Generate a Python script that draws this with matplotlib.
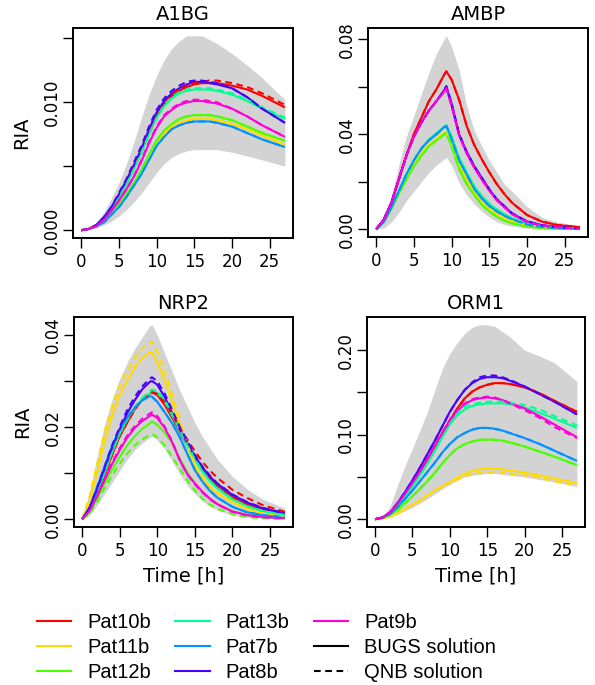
import matplotlib
matplotlib.use("Agg")
import matplotlib.pyplot as plt
from matplotlib.lines import Line2D

plt.rcParams['font.family'] = ['DejaVu Sans']

# ---------------- data ----------------
patients = ["Pat10b", "Pat11b", "Pat12b", "Pat13b", "Pat7b", "Pat8b", "Pat9b"]
colors = ["#FF0000", "#FFDB00", "#49FF00", "#00FF92", "#0092FF", "#4900FF", "#FF00DB"]
genes = ["A1BG", "AMBP", "NRP2", "ORM1"]

# time grids (hours)
t_slow = [0, 1, 2, 3, 4, 5, 6, 7, 8, 9, 10, 11, 12, 13, 14, 15, 16, 17, 18, 20, 22, 24, 27]
t_fast = [0, 1, 2, 3, 4, 5, 6, 7, 8, 9, 9.3, 10, 11, 12, 13, 14, 15, 16, 17, 18, 20, 22, 24, 27]

# ---- A1BG ----
a1bg_band_hi = [0, 0.0002, 0.0006, 0.0014, 0.0025, 0.0037, 0.0052, 0.0069, 0.0088, 0.0106, 0.0121, 0.0133, 0.0142, 0.0148, 0.0152, 0.0152, 0.0152, 0.0149, 0.0146, 0.0138, 0.0129, 0.0119, 0.0102]
a1bg_band_lo = [0, 0.00005, 0.0002, 0.0004, 0.0007, 0.0011, 0.0016, 0.0022, 0.0029, 0.0037, 0.0045, 0.0052, 0.0057, 0.0060, 0.0062, 0.0063, 0.0063, 0.0063, 0.0063, 0.0061, 0.0058, 0.0055, 0.0050]
a1bg_pat10b_bugs = [0, 0.0001, 0.0004, 0.0009, 0.0017, 0.0026, 0.0037, 0.0049, 0.0062, 0.0076, 0.0089, 0.0099, 0.0105, 0.0109, 0.0112, 0.0114, 0.0115, 0.0115, 0.0115, 0.0113, 0.0110, 0.0105, 0.0096]
a1bg_pat10b_qnb = [0, 0.0001, 0.0004, 0.0009, 0.0017, 0.0026, 0.0037, 0.0049, 0.0062, 0.0076, 0.0089, 0.0099, 0.0106, 0.0110, 0.0113, 0.0115, 0.0116, 0.0117, 0.0117, 0.0115, 0.0112, 0.0107, 0.0098]
a1bg_pat11b_bugs = [0, 0.0001, 0.0003, 0.0007, 0.0012, 0.0019, 0.0027, 0.0036, 0.0046, 0.0057, 0.0068, 0.0076, 0.0081, 0.0084, 0.0086, 0.0087, 0.0087, 0.0087, 0.0086, 0.0083, 0.0079, 0.0074, 0.0067]
a1bg_pat11b_qnb = a1bg_pat11b_bugs
a1bg_pat12b_bugs = [0, 0.0001, 0.0003, 0.0007, 0.0013, 0.0020, 0.0028, 0.0037, 0.0047, 0.0059, 0.0070, 0.0078, 0.0083, 0.0087, 0.0089, 0.0090, 0.0090, 0.0090, 0.0089, 0.0086, 0.0081, 0.0076, 0.0070]
a1bg_pat12b_qnb = a1bg_pat12b_bugs
a1bg_pat13b_bugs = [0, 0.0001, 0.0004, 0.0009, 0.0017, 0.0026, 0.0036, 0.0048, 0.0061, 0.0075, 0.0088, 0.0097, 0.0103, 0.0107, 0.0109, 0.0110, 0.0110, 0.0110, 0.0109, 0.0106, 0.0101, 0.0095, 0.0087]
a1bg_pat13b_qnb = [0, 0.0001, 0.0004, 0.0009, 0.0017, 0.0026, 0.0036, 0.0048, 0.0061, 0.0075, 0.0088, 0.0098, 0.0104, 0.0108, 0.0110, 0.0111, 0.0111, 0.0111, 0.0110, 0.0107, 0.0102, 0.0096, 0.0088]
a1bg_pat7b_bugs = [0, 0.0001, 0.0003, 0.0006, 0.0012, 0.0018, 0.0026, 0.0035, 0.0044, 0.0055, 0.0066, 0.0073, 0.0079, 0.0082, 0.0084, 0.0085, 0.0085, 0.0085, 0.0084, 0.0081, 0.0076, 0.0071, 0.0065]
a1bg_pat7b_qnb = a1bg_pat7b_bugs
a1bg_pat8b_bugs = [0, 0.0001, 0.0004, 0.0010, 0.0018, 0.0028, 0.0039, 0.0051, 0.0064, 0.0079, 0.0092, 0.0101, 0.0107, 0.0111, 0.0114, 0.0116, 0.0116, 0.0115, 0.0114, 0.0111, 0.0104, 0.0095, 0.0084]
a1bg_pat8b_qnb = [0, 0.0001, 0.0004, 0.0010, 0.0018, 0.0029, 0.0040, 0.0053, 0.0066, 0.0081, 0.0094, 0.0103, 0.0109, 0.0113, 0.0116, 0.0117, 0.0117, 0.0116, 0.0115, 0.0111, 0.0104, 0.0095, 0.0084]
a1bg_pat9b_bugs = [0, 0.0001, 0.0003, 0.0008, 0.0015, 0.0023, 0.0032, 0.0042, 0.0054, 0.0068, 0.0080, 0.0089, 0.0094, 0.0098, 0.0100, 0.0101, 0.0101, 0.0100, 0.0099, 0.0095, 0.0089, 0.0082, 0.0073]
a1bg_pat9b_qnb = [0, 0.0001, 0.0003, 0.0008, 0.0015, 0.0023, 0.0032, 0.0042, 0.0055, 0.0069, 0.0081, 0.0090, 0.0095, 0.0099, 0.0101, 0.0102, 0.0102, 0.0101, 0.0100, 0.0095, 0.0089, 0.0082, 0.0073]

# ---- AMBP ----
ambp_band_hi = [0, 0.005, 0.0135, 0.027, 0.039, 0.048, 0.057, 0.066, 0.074, 0.080, 0.0815, 0.077, 0.067, 0.052, 0.0416, 0.035, 0.029, 0.024, 0.019, 0.016, 0.0095, 0.005, 0.003, 0.0015]
ambp_band_lo = [0, 0.0005, 0.003, 0.007, 0.012, 0.016, 0.020, 0.024, 0.027, 0.0295, 0.0303, 0.027, 0.0195, 0.0145, 0.0106, 0.0075, 0.005, 0.0032, 0.002, 0.0013, 0.0005, 0.0002, 0.0001, 0]
ambp_pat10b_bugs = [0, 0.004, 0.011, 0.021, 0.031, 0.040, 0.047, 0.054, 0.059, 0.065, 0.0665, 0.063, 0.0545, 0.0435, 0.0355, 0.0295, 0.024, 0.019, 0.0148, 0.0112, 0.006, 0.0032, 0.0018, 0.0009]
ambp_pat10b_qnb = ambp_pat10b_bugs
ambp_pat11b_bugs = [0, 0.003, 0.0085, 0.015, 0.021, 0.027, 0.032, 0.0355, 0.038, 0.0405, 0.041, 0.036, 0.027, 0.021, 0.0155, 0.0115, 0.0087, 0.0065, 0.0048, 0.0035, 0.0017, 0.0008, 0.0004, 0.0001]
ambp_pat11b_qnb = ambp_pat11b_bugs
ambp_pat12b_bugs = [0, 0.003, 0.0085, 0.015, 0.021, 0.0265, 0.031, 0.035, 0.0375, 0.040, 0.0405, 0.035, 0.0255, 0.019, 0.0145, 0.0103, 0.0075, 0.0052, 0.0036, 0.0025, 0.0011, 0.0005, 0.0002, 0.0001]
ambp_pat12b_qnb = ambp_pat12b_bugs
ambp_pat13b_bugs = [0, 0.003, 0.009, 0.016, 0.023, 0.029, 0.034, 0.0378, 0.0405, 0.043, 0.0438, 0.039, 0.030, 0.024, 0.018, 0.014, 0.0107, 0.0083, 0.0063, 0.0047, 0.0024, 0.0012, 0.0006, 0.0002]
ambp_pat13b_qnb = ambp_pat13b_bugs
ambp_pat7b_bugs = [0, 0.003, 0.009, 0.016, 0.023, 0.029, 0.034, 0.0375, 0.040, 0.043, 0.0435, 0.038, 0.029, 0.023, 0.017, 0.013, 0.0098, 0.0075, 0.0057, 0.0042, 0.002, 0.001, 0.0005, 0.0002]
ambp_pat7b_qnb = ambp_pat7b_bugs
ambp_pat8b_bugs = [0, 0.004, 0.011, 0.021, 0.031, 0.039, 0.045, 0.050, 0.054, 0.0585, 0.0602, 0.053, 0.040, 0.0326, 0.0266, 0.0217, 0.0168, 0.0126, 0.0097, 0.0067, 0.0033, 0.0017, 0.0009, 0.0004]
ambp_pat8b_qnb = ambp_pat8b_bugs
ambp_pat9b_bugs = [0, 0.004, 0.011, 0.021, 0.031, 0.039, 0.045, 0.050, 0.054, 0.058, 0.0595, 0.052, 0.0395, 0.032, 0.026, 0.021, 0.0163, 0.0122, 0.0093, 0.0064, 0.0031, 0.0016, 0.0008, 0.0004]
ambp_pat9b_qnb = ambp_pat9b_bugs

# ---- NRP2 ----
nrp2_band_hi = [0, 0.006, 0.0135, 0.0205, 0.026, 0.0305, 0.034, 0.037, 0.0395, 0.042, 0.0422, 0.040, 0.036, 0.032, 0.028, 0.0245, 0.021, 0.018, 0.0155, 0.013, 0.0093, 0.0065, 0.0044, 0.0024]
nrp2_band_lo = [0, 0.0008, 0.003, 0.0055, 0.008, 0.0105, 0.013, 0.015, 0.0165, 0.0177, 0.018, 0.0172, 0.0152, 0.0125, 0.0098, 0.0074, 0.0055, 0.004, 0.0028, 0.002, 0.0009, 0.0004, 0.0002, 0.0001]
nrp2_pat10b_bugs = [0, 0.0018, 0.0055, 0.0095, 0.014, 0.018, 0.021, 0.0238, 0.026, 0.0272, 0.0275, 0.027, 0.0248, 0.022, 0.019, 0.016, 0.0132, 0.0108, 0.0088, 0.0072, 0.0048, 0.0032, 0.0021, 0.0011]
nrp2_pat10b_qnb = [0, 0.0018, 0.0055, 0.0095, 0.014, 0.018, 0.021, 0.0238, 0.026, 0.0272, 0.0276, 0.0272, 0.0254, 0.0228, 0.020, 0.0173, 0.0148, 0.0125, 0.0106, 0.009, 0.0064, 0.0046, 0.0031, 0.0016]
nrp2_pat11b_bugs = [0, 0.004, 0.010, 0.017, 0.0225, 0.027, 0.030, 0.033, 0.035, 0.0362, 0.0363, 0.034, 0.030, 0.0255, 0.0205, 0.0158, 0.0115, 0.0088, 0.007, 0.0056, 0.0036, 0.0022, 0.0013, 0.0006]
nrp2_pat11b_qnb = [0, 0.005, 0.012, 0.019, 0.0245, 0.029, 0.032, 0.035, 0.037, 0.0385, 0.0385, 0.0365, 0.032, 0.027, 0.0215, 0.0165, 0.012, 0.0092, 0.0072, 0.0058, 0.0038, 0.0023, 0.0014, 0.0007]
nrp2_pat12b_bugs = [0, 0.0015, 0.0045, 0.0078, 0.0108, 0.0135, 0.016, 0.018, 0.0196, 0.0208, 0.0212, 0.0205, 0.0188, 0.0165, 0.0132, 0.0102, 0.0078, 0.0058, 0.0043, 0.0032, 0.0017, 0.0009, 0.0005, 0.0002]
nrp2_pat12b_qnb = [0, 0.0012, 0.0038, 0.0068, 0.0095, 0.012, 0.0142, 0.016, 0.0173, 0.0183, 0.0185, 0.0178, 0.016, 0.0135, 0.011, 0.0085, 0.0063, 0.0045, 0.0032, 0.0023, 0.0011, 0.0005, 0.0002, 0.0001]
nrp2_pat13b_bugs = [0, 0.002, 0.006, 0.010, 0.0145, 0.0185, 0.0215, 0.024, 0.026, 0.0273, 0.0277, 0.0275, 0.0255, 0.0225, 0.0192, 0.016, 0.013, 0.0104, 0.0083, 0.0067, 0.0043, 0.0028, 0.0018, 0.0009]
nrp2_pat13b_qnb = [0, 0.002, 0.006, 0.010, 0.0145, 0.0185, 0.0217, 0.0243, 0.0263, 0.0277, 0.0281, 0.0279, 0.0259, 0.0228, 0.0195, 0.0162, 0.0132, 0.0105, 0.0084, 0.0068, 0.0044, 0.0028, 0.0018, 0.0009]
nrp2_pat7b_bugs = [0, 0.0025, 0.007, 0.0115, 0.016, 0.0195, 0.022, 0.0242, 0.0258, 0.0267, 0.0266, 0.0255, 0.0232, 0.0208, 0.0178, 0.0142, 0.0107, 0.0082, 0.0062, 0.0047, 0.0027, 0.0015, 0.0009, 0.0004]
nrp2_pat7b_qnb = nrp2_pat7b_bugs
nrp2_pat8b_bugs = [0, 0.0025, 0.0065, 0.011, 0.0155, 0.0195, 0.023, 0.0258, 0.0282, 0.0298, 0.030, 0.0292, 0.0265, 0.023, 0.0195, 0.0165, 0.0137, 0.0113, 0.0093, 0.0077, 0.0053, 0.0036, 0.0024, 0.0013]
nrp2_pat8b_qnb = [0, 0.0025, 0.0067, 0.0113, 0.016, 0.020, 0.0237, 0.0265, 0.0288, 0.0305, 0.0308, 0.030, 0.0272, 0.0237, 0.020, 0.017, 0.014, 0.0115, 0.0095, 0.0078, 0.0054, 0.0037, 0.0025, 0.0013]
nrp2_pat9b_bugs = [0, 0.0018, 0.005, 0.0085, 0.012, 0.015, 0.0177, 0.0198, 0.0213, 0.0224, 0.0227, 0.022, 0.0198, 0.0167, 0.0128, 0.0098, 0.0078, 0.006, 0.0045, 0.0033, 0.0017, 0.0009, 0.0005, 0.0002]
nrp2_pat9b_qnb = [0, 0.0018, 0.0051, 0.0087, 0.0123, 0.0154, 0.0181, 0.0202, 0.0218, 0.0229, 0.0232, 0.0224, 0.0201, 0.0168, 0.0128, 0.0097, 0.0076, 0.0058, 0.0044, 0.0032, 0.0016, 0.0008, 0.0004, 0.0002]

# ---- ORM1 ----
orm1_band_hi = [0, 0.003, 0.015, 0.040, 0.063, 0.084, 0.105, 0.127, 0.153, 0.178, 0.196, 0.209, 0.220, 0.227, 0.230, 0.230, 0.228, 0.222, 0.216, 0.200, 0.193, 0.185, 0.163]
orm1_band_lo = [0, 0.001, 0.003, 0.006, 0.010, 0.014, 0.019, 0.024, 0.030, 0.036, 0.041, 0.046, 0.050, 0.052, 0.053, 0.054, 0.054, 0.053, 0.052, 0.050, 0.047, 0.044, 0.0385]
orm1_pat10b_bugs = [0, 0.002, 0.007, 0.017, 0.029, 0.042, 0.056, 0.070, 0.086, 0.102, 0.117, 0.131, 0.143, 0.151, 0.156, 0.159, 0.161, 0.161, 0.160, 0.156, 0.149, 0.140, 0.127]
orm1_pat10b_qnb = orm1_pat10b_bugs
orm1_pat11b_bugs = [0, 0.001, 0.003, 0.007, 0.012, 0.017, 0.022, 0.028, 0.034, 0.039, 0.044, 0.049, 0.054, 0.057, 0.059, 0.060, 0.060, 0.059, 0.058, 0.055, 0.052, 0.048, 0.043]
orm1_pat11b_qnb = [0, 0.001, 0.003, 0.007, 0.012, 0.017, 0.022, 0.028, 0.034, 0.039, 0.043, 0.047, 0.051, 0.053, 0.055, 0.0555, 0.0555, 0.055, 0.054, 0.052, 0.049, 0.045, 0.040]
orm1_pat12b_bugs = [0, 0.001, 0.005, 0.011, 0.019, 0.027, 0.036, 0.045, 0.055, 0.066, 0.076, 0.084, 0.089, 0.092, 0.094, 0.094, 0.094, 0.093, 0.091, 0.086, 0.080, 0.074, 0.064]
orm1_pat12b_qnb = orm1_pat12b_bugs
orm1_pat13b_bugs = [0, 0.002, 0.007, 0.016, 0.027, 0.039, 0.052, 0.066, 0.081, 0.097, 0.112, 0.123, 0.130, 0.134, 0.136, 0.137, 0.137, 0.137, 0.136, 0.132, 0.126, 0.119, 0.108]
orm1_pat13b_qnb = [0, 0.002, 0.007, 0.016, 0.027, 0.039, 0.052, 0.066, 0.082, 0.099, 0.115, 0.126, 0.133, 0.136, 0.138, 0.139, 0.139, 0.139, 0.138, 0.135, 0.130, 0.122, 0.111]
orm1_pat7b_bugs = [0, 0.002, 0.006, 0.014, 0.024, 0.034, 0.045, 0.056, 0.067, 0.079, 0.089, 0.097, 0.102, 0.106, 0.108, 0.108, 0.107, 0.105, 0.102, 0.096, 0.089, 0.081, 0.069]
orm1_pat7b_qnb = orm1_pat7b_bugs
orm1_pat8b_bugs = [0, 0.002, 0.008, 0.019, 0.032, 0.046, 0.061, 0.077, 0.093, 0.110, 0.127, 0.141, 0.153, 0.161, 0.166, 0.168, 0.168, 0.167, 0.164, 0.157, 0.148, 0.139, 0.124]
orm1_pat8b_qnb = [0, 0.002, 0.008, 0.019, 0.032, 0.046, 0.061, 0.077, 0.093, 0.110, 0.127, 0.141, 0.153, 0.162, 0.168, 0.170, 0.170, 0.168, 0.165, 0.157, 0.148, 0.139, 0.124]
orm1_pat9b_bugs = [0, 0.002, 0.008, 0.018, 0.030, 0.043, 0.057, 0.071, 0.087, 0.102, 0.116, 0.128, 0.136, 0.141, 0.143, 0.144, 0.143, 0.141, 0.138, 0.131, 0.122, 0.112, 0.097]
orm1_pat9b_qnb = [0, 0.002, 0.008, 0.018, 0.030, 0.043, 0.057, 0.071, 0.087, 0.102, 0.117, 0.129, 0.137, 0.142, 0.144, 0.145, 0.144, 0.141, 0.137, 0.129, 0.120, 0.109, 0.096]

# axis ticks / labels
x_ticks = [0, 5, 10, 15, 20, 25]
a1bg_yticks = [0, 0.005, 0.010, 0.015]
a1bg_ylabels = ["0.000", "", "0.010", ""]
ambp_yticks = [0, 0.02, 0.04, 0.06, 0.08]
ambp_ylabels = ["0.00", "", "0.04", "", "0.08"]
nrp2_yticks = [0, 0.01, 0.02, 0.03, 0.04]
nrp2_ylabels = ["0.00", "", "0.02", "", "0.04"]
orm1_yticks = [0, 0.05, 0.10, 0.15, 0.20]
orm1_ylabels = ["0.00", "", "0.10", "", "0.20"]

# ---------------- assemble ----------------
panels = {
    "A1BG": dict(t=t_slow, hi=a1bg_band_hi, lo=a1bg_band_lo,
                 bugs=[a1bg_pat10b_bugs, a1bg_pat11b_bugs, a1bg_pat12b_bugs, a1bg_pat13b_bugs, a1bg_pat7b_bugs, a1bg_pat8b_bugs, a1bg_pat9b_bugs],
                 qnb=[a1bg_pat10b_qnb, a1bg_pat11b_qnb, a1bg_pat12b_qnb, a1bg_pat13b_qnb, a1bg_pat7b_qnb, a1bg_pat8b_qnb, a1bg_pat9b_qnb],
                 yt=a1bg_yticks, yl=a1bg_ylabels),
    "AMBP": dict(t=t_fast, hi=ambp_band_hi, lo=ambp_band_lo,
                 bugs=[ambp_pat10b_bugs, ambp_pat11b_bugs, ambp_pat12b_bugs, ambp_pat13b_bugs, ambp_pat7b_bugs, ambp_pat8b_bugs, ambp_pat9b_bugs],
                 qnb=[ambp_pat10b_qnb, ambp_pat11b_qnb, ambp_pat12b_qnb, ambp_pat13b_qnb, ambp_pat7b_qnb, ambp_pat8b_qnb, ambp_pat9b_qnb],
                 yt=ambp_yticks, yl=ambp_ylabels),
    "NRP2": dict(t=t_fast, hi=nrp2_band_hi, lo=nrp2_band_lo,
                 bugs=[nrp2_pat10b_bugs, nrp2_pat11b_bugs, nrp2_pat12b_bugs, nrp2_pat13b_bugs, nrp2_pat7b_bugs, nrp2_pat8b_bugs, nrp2_pat9b_bugs],
                 qnb=[nrp2_pat10b_qnb, nrp2_pat11b_qnb, nrp2_pat12b_qnb, nrp2_pat13b_qnb, nrp2_pat7b_qnb, nrp2_pat8b_qnb, nrp2_pat9b_qnb],
                 yt=nrp2_yticks, yl=nrp2_ylabels),
    "ORM1": dict(t=t_slow, hi=orm1_band_hi, lo=orm1_band_lo,
                 bugs=[orm1_pat10b_bugs, orm1_pat11b_bugs, orm1_pat12b_bugs, orm1_pat13b_bugs, orm1_pat7b_bugs, orm1_pat8b_bugs, orm1_pat9b_bugs],
                 qnb=[orm1_pat10b_qnb, orm1_pat11b_qnb, orm1_pat12b_qnb, orm1_pat13b_qnb, orm1_pat7b_qnb, orm1_pat8b_qnb, orm1_pat9b_qnb],
                 yt=orm1_yticks, yl=orm1_ylabels),
}

W, H = 595, 685
fig = plt.figure(figsize=(W / 100, H / 100), dpi=100)

# pixel boxes: left, right, top, bottom
boxes = {
    "A1BG": (73, 293, 28, 238),
    "AMBP": (368, 588, 28, 237),
    "NRP2": (74, 293, 317, 527),
    "ORM1": (367, 585, 317, 527),
}

DASH = (3.2, 2.2)
LW = 1.5

for g in genes:
    l, r, t, b = boxes[g]
    ax = fig.add_axes([l / W, 1 - b / H, (r - l) / W, (b - t) / H])
    p = panels[g]
    ax.fill_between(p["t"], p["lo"], p["hi"], color="#D3D3D3", lw=0, zorder=1)
    for i, c in enumerate(colors):
        ax.plot(p["t"], p["bugs"][i], color=c, lw=LW, solid_capstyle="butt", zorder=2)
    for i, c in enumerate(colors):
        ax.plot(p["t"], p["qnb"][i], color=c, lw=LW, linestyle=(0, DASH), zorder=3)
    ax.margins(x=0.04, y=0.04)
    ax.set_xticks(x_ticks)
    ax.set_xticklabels([str(v) for v in x_ticks])
    ax.set_yticks(p["yt"])
    ax.set_yticklabels(p["yl"], rotation=90, va="center")
    ax.tick_params(direction="out", length=7.5, width=1.0, labelsize=12, colors="black")
    ax.tick_params(axis="x", pad=3)
    ax.tick_params(axis="y", pad=1)
    for s in ax.spines.values():
        s.set_linewidth(1.4)
    ax.set_title(g, fontsize=14, pad=6)
    if g in ("A1BG", "NRP2"):
        ax.set_ylabel("RIA", fontsize=14, labelpad=9)
    if g in ("NRP2", "ORM1"):
        ax.set_xlabel("Time [h]", fontsize=14, labelpad=5)

# legend
handles = [Line2D([], [], color=c, lw=LW) for c in colors]
handles += [Line2D([], [], color="black", lw=LW),
            Line2D([], [], color="black", lw=LW, linestyle=(0, DASH))]
labels = patients + ["BUGS solution", "QNB solution"]
fig.legend(handles, labels, ncol=3, loc="upper left",
           bbox_to_anchor=(37 / W, 1 - 613 / H), frameon=False,
           prop={"family": "Liberation Sans", "size": 14.5},
           handlelength=1.69, handletextpad=0.8, columnspacing=1.22,
           labelspacing=0.3, borderpad=0, borderaxespad=0)

fig.savefig("out.png", dpi=100)
